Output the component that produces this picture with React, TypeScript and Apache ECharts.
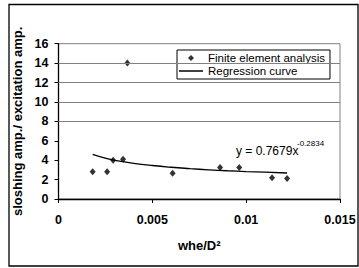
import React, { useEffect, useRef } from "react";
import * as echarts from "echarts";

const feX = [0.00182, 0.00259, 0.00291, 0.00344, 0.00367, 0.00608, 0.00861, 0.00963, 0.01138, 0.01218];
const feY = [2.8, 2.8, 4.0, 4.1, 14.0, 2.65, 3.25, 3.25, 2.2, 2.1];
const regX = [0.00182, 0.0025, 0.003, 0.004, 0.005, 0.006, 0.007, 0.008, 0.009, 0.01, 0.011, 0.01218];
const regY = [4.6, 4.2, 3.98, 3.68, 3.45, 3.27, 3.13, 3.01, 2.91, 2.83, 2.76, 2.68];
const gridLineValues = [8, 10, 12, 14];
const xTicks = [0, 0.005, 0.01, 0.015];
const seriesNames = ["Finite element analysis", "Regression curve"];
const equationMain = "y = 0.7679x";
const equationExp = "-0.2834";

const FONT = "'Liberation Sans', Arial, sans-serif";

export default function App() {
  const ref = useRef<HTMLDivElement>(null);
  useEffect(() => {
    const chart = echarts.init(ref.current!, null, { renderer: "svg" });
    chart.setOption({
      animation: false,
      backgroundColor: "#fff",
      textStyle: { fontFamily: FONT },
      grid: {
        left: 58.5,
        right: 19,
        top: 43.7,
        bottom: 69,
        show: true,
        borderColor: "#808080",
        borderWidth: 1,
        backgroundColor: "transparent",
      },
      xAxis: {
        type: "value",
        min: xTicks[0],
        max: xTicks[xTicks.length - 1],
        interval: 0.005,
        name: "whe/D²",
        nameLocation: "middle",
        nameGap: 40,
        nameTextStyle: { fontWeight: "bold", fontSize: 13, color: "#000", fontFamily: FONT },
        axisLine: { lineStyle: { color: "#000", width: 1.3 } },
        axisTick: { length: 4, lineStyle: { color: "#000" } },
        splitLine: { show: false },
        axisLabel: {
          fontWeight: "bold",
          fontSize: 12.5,
          color: "#000",
          margin: 14,
          fontFamily: FONT,
          formatter: (v: number) => String(v),
        },
      },
      yAxis: {
        type: "value",
        min: 0,
        max: 16,
        interval: 2,
        name: "sloshing amp./ excitation amp.",
        nameLocation: "middle",
        nameRotate: 90,
        nameGap: 32,
        nameTextStyle: { fontWeight: "bold", fontSize: 13, color: "#000", fontFamily: FONT },
        axisLine: { show: true, lineStyle: { color: "#000", width: 1.3 } },
        axisTick: { show: true, length: 4, lineStyle: { color: "#000" } },
        splitLine: { show: false },
        axisLabel: { fontWeight: "bold", fontSize: 12.5, color: "#000", margin: 10, fontFamily: FONT },
      },
      legend: {
        left: 177,
        top: 50,
        orient: "vertical",
        itemGap: 1,
        padding: [2, 5, 2, 2],
        itemWidth: 24,
        itemHeight: 11,
        backgroundColor: "#fff",
        borderColor: "#000",
        borderWidth: 1,
        borderRadius: 0,
        textStyle: { fontSize: 11.5, color: "#000", fontFamily: FONT },
        data: [
          { name: seriesNames[0], icon: "path://M0,0M20,20M4.5,10L10,4.5L15.5,10L10,15.5Z" },
          { name: seriesNames[1], icon: "path://M0,0H48V3H0Z" },
        ],
        selectedMode: false,
      },
      graphic: [
        {
          type: "rect",
          shape: { x: 9, y: 4.5, width: 349, height: 261.5 },
          style: { fill: "none", stroke: "#000", lineWidth: 1.3 },
          silent: true,
        },
        {
          type: "text",
          x: 236,
          y: 151,
          style: { text: equationMain, fontSize: 12, fill: "#000", fontFamily: FONT, verticalAlign: "middle" },
        },
        {
          type: "text",
          x: 297,
          y: 143,
          style: { text: equationExp, fontSize: 8, fill: "#000", fontFamily: FONT, verticalAlign: "middle" },
        },
      ],
      series: [
        {
          name: seriesNames[0],
          type: "scatter",
          symbol: "diamond",
          symbolSize: [6, 7],
          itemStyle: { color: "#000" },
          data: feX.map((x, i) => [x, feY[i]]),
          z: 3,
          markLine: {
            silent: true,
            symbol: "none",
            label: { show: false },
            lineStyle: { color: "#808080", width: 1, type: "solid" },
            data: gridLineValues.map((v) => ({ yAxis: v })),
          },
        },
        {
          name: seriesNames[1],
          type: "line",
          smooth: true,
          showSymbol: false,
          symbol: "none",
          lineStyle: { color: "#000", width: 1.3 },
          itemStyle: { color: "#000" },
          data: regX.map((x, i) => [x, regY[i]]),
          z: 2,
        },
      ],
    });
    return () => chart.dispose();
  }, []);
  return (
    <div
      ref={ref}
      style={{ position: "absolute", left: 0, top: 0, width: 359, height: 268 }}
    />
  );
}
